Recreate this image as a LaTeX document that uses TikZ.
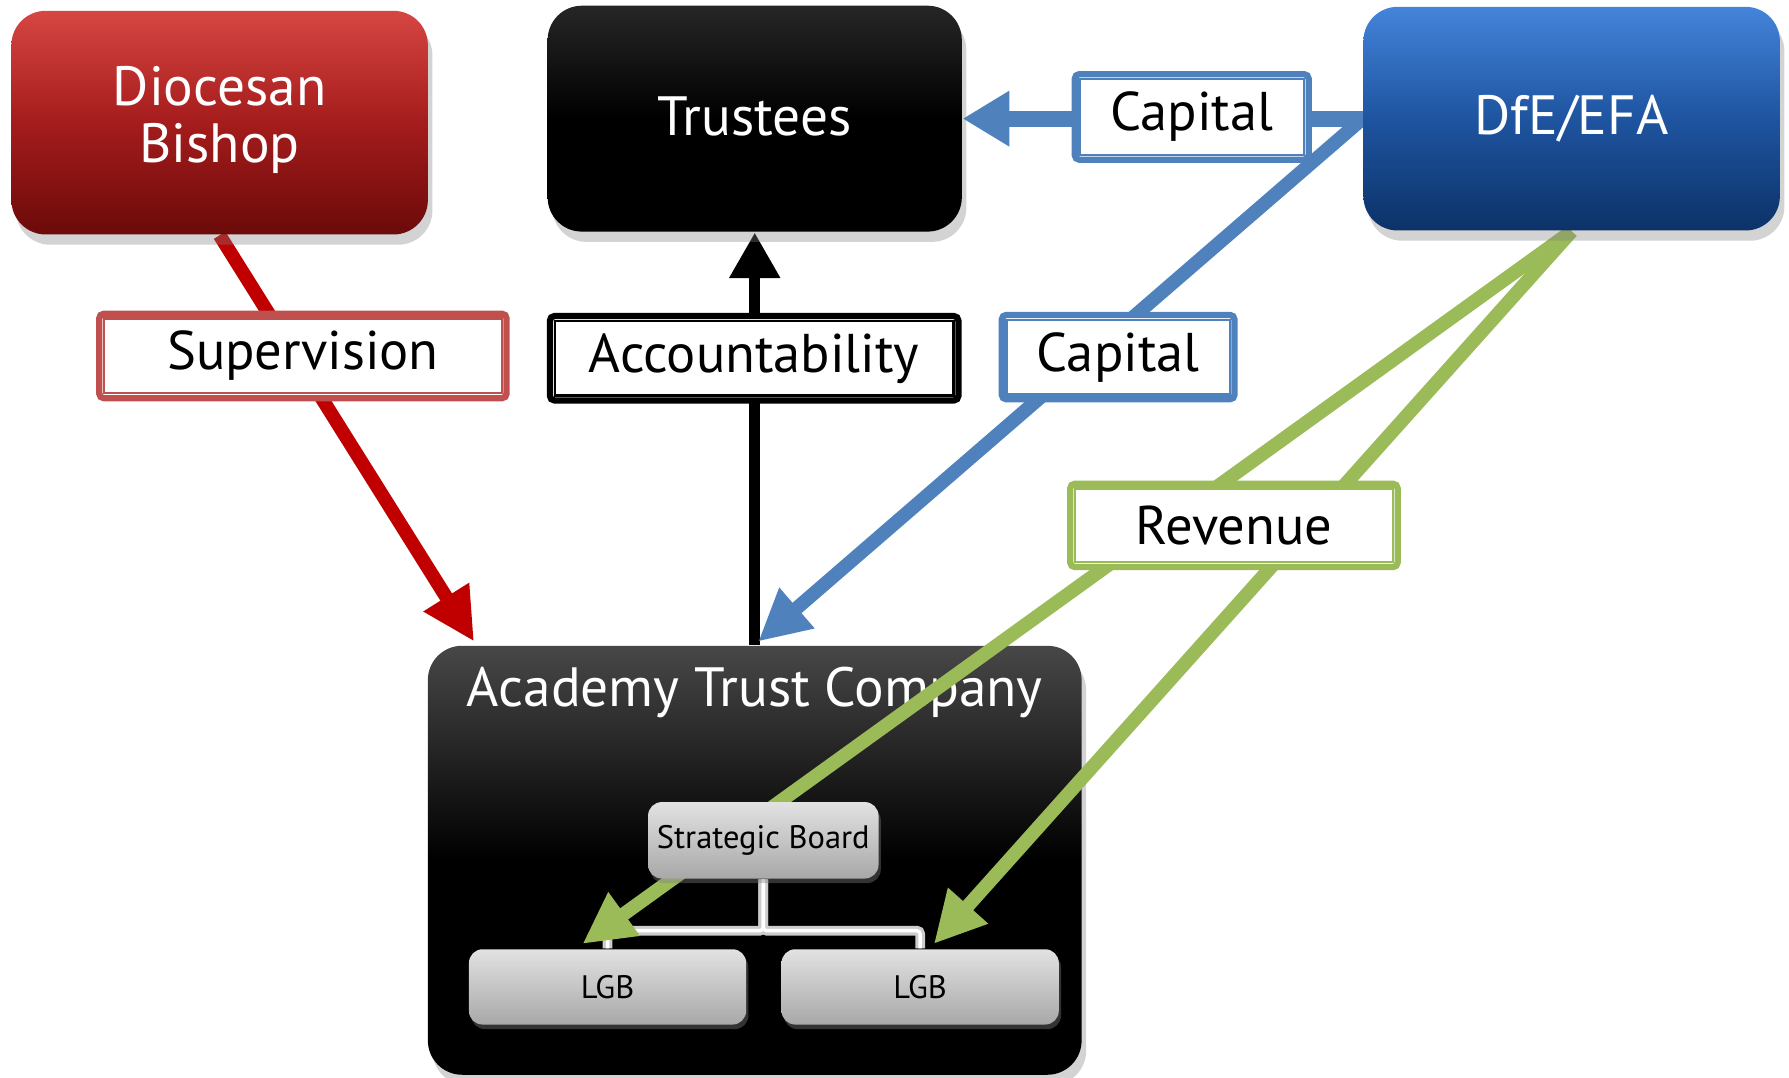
\documentclass[tikz,border=0pt]{standalone}
\usepackage{fontspec}
\setmainfont{PT Sans}
\usetikzlibrary{arrows.meta,shadows}
\definecolor{dioT}{RGB}{214,70,66}
\definecolor{dioM}{RGB}{165,28,28}
\definecolor{dioB}{RGB}{108,10,10}
\definecolor{dfeT}{RGB}{68,132,218}
\definecolor{dfeM}{RGB}{30,84,160}
\definecolor{dfeB}{RGB}{12,50,104}
\definecolor{supC}{RGB}{192,80,77}
\definecolor{capC}{RGB}{79,129,189}
\definecolor{revC}{RGB}{155,187,89}
\definecolor{redA}{RGB}{192,0,0}
\definecolor{gboxT}{RGB}{226,226,226}
\definecolor{gboxB}{RGB}{168,168,168}
\pgfdeclarelayer{bg}
\pgfdeclarelayer{mid}
\pgfsetlayers{bg,mid,main}
\tikzset{
  bigbox/.style={rounded corners=3mm, minimum width=36.5mm, minimum height=19.6mm,
    text=white, font=\fontsize{13.8}{14.3}\selectfont, align=center, inner sep=0pt,
    drop shadow={opacity=0.35, shadow xshift=0.4mm, shadow yshift=-0.9mm}},
  gbox/.style={rounded corners=1.2mm, top color=gboxT, bottom color=gboxB,
    text=black, inner sep=0pt, font=\fontsize{8.1}{9}\selectfont,
    drop shadow={opacity=0.4, shadow xshift=0.2mm, shadow yshift=-0.4mm}},
  lab/.style={draw=#1, line width=0.55mm, fill=white, rounded corners=0.4mm,
    inner sep=0pt, text=black, font=\fontsize{13.6}{15.5}\selectfont},
  arr/.style={line width=1.2mm, -{Triangle[length=4.5mm,width=4.4mm]}},
  treeline/.style={line width=0.85mm, draw=white!80!black, rounded corners=0.3mm},
  treecore/.style={line width=0.3mm, draw=white, rounded corners=0.3mm}
}
\newcommand\mklabel[6]{%
  \node[lab=#1, minimum width=#4, minimum height=#5] (#2) at (#3) {#6};
  \draw[#1, line width=0.2mm] ([shift={(0.7mm,-0.7mm)}]#2.north west) rectangle ([shift={(-0.7mm,0.7mm)}]#2.south east);
}
\begin{document}
\begin{tikzpicture}[x=0.1mm,y=-0.1mm]
\useasboundingbox (0,0) rectangle (1568,944);

% Academy Trust Company container (background)
\begin{pgfonlayer}{bg}
\node[bigbox, minimum width=57.3mm, minimum height=37.6mm,
  top color=black!72, bottom color=black, middle color=black] (atc) at (661.5,754) {};
\node[text=white, font=\fontsize{13.8}{15.5}\selectfont] (atct) at (661.5,607) {Academy Trust Company};
\end{pgfonlayer}

% top boxes
\node[bigbox, top color=dioT, bottom color=dioB, middle color=dioM] (dio) at (192.5,107.5) {\raisebox{0.45mm}{\begin{tabular}{@{}c@{}}Diocesan\\Bishop\end{tabular}}};
\node[bigbox, minimum width=36.3mm, minimum height=19.8mm, top color=black!85, bottom color=black, middle color=black] (tru) at (661.5,104) {\raisebox{0.4mm}{Trustees}};
\node[bigbox, top color=dfeT, bottom color=dfeB, middle color=dfeM] (dfe) at (1377.5,104) {\raisebox{0.3mm}{DfE/EFA}};

% inner boxes
\node[gbox, minimum width=20.2mm, minimum height=6.7mm] (sb) at (669,736.5) {Strategic Board};
\node[gbox, minimum width=24.3mm, minimum height=6.6mm] (lgb1) at (532.5,865) {LGB};
\node[gbox, minimum width=24.3mm, minimum height=6.6mm] (lgb2) at (806.5,865) {LGB};

% connectors
\begin{pgfonlayer}{mid}
\draw[treeline] (sb.south) -- ++(0,45) -| (lgb1.north);
\draw[treeline] (sb.south) -- ++(0,45) -| (lgb2.north);
\draw[treecore] (sb.south) -- ++(0,45) -| (lgb1.north);
\draw[treecore] (sb.south) -- ++(0,45) -| (lgb2.north);

\draw[arr, redA, -{Triangle[length=4.6mm,width=4.4mm]}] (dio.south) -- ([xshift=-24.6mm,yshift=0.3mm]atc.north);
\draw[arr, black, line width=1.0mm, -{Triangle[length=4mm,width=4.2mm]}] (atc.north) -- (tru.south);
\draw[arr, capC, line width=1.4mm, -{Triangle[length=4.1mm,width=4.6mm]}] (dfe.west) -- (tru.east);
\draw[arr, capC] (dfe.west) -- ([xshift=0.3mm,yshift=0.3mm]atc.north);
\draw[arr, revC] (dfe.south) -- ([xshift=-2.2mm,yshift=0.4mm]lgb1.north);
\draw[arr, revC] (dfe.south) -- ([xshift=1.2mm,yshift=0.4mm]lgb2.north);
\end{pgfonlayer}

% labels
\mklabel{supC}{lsup}{265.5,312}{35.7mm}{7.4mm}{Supervision}
\mklabel{black}{lacc}{661,314}{35.8mm}{7.4mm}{Accountability}
\mklabel{capC}{lcap1}{1044.5,102.5}{20.5mm}{7.5mm}{Capital}
\mklabel{capC}{lcap2}{980,313}{20.4mm}{7.4mm}{Capital}
\mklabel{revC}{lrev}{1081.5,460.5}{28.7mm}{7.3mm}{Revenue}
\end{tikzpicture}
\end{document}
